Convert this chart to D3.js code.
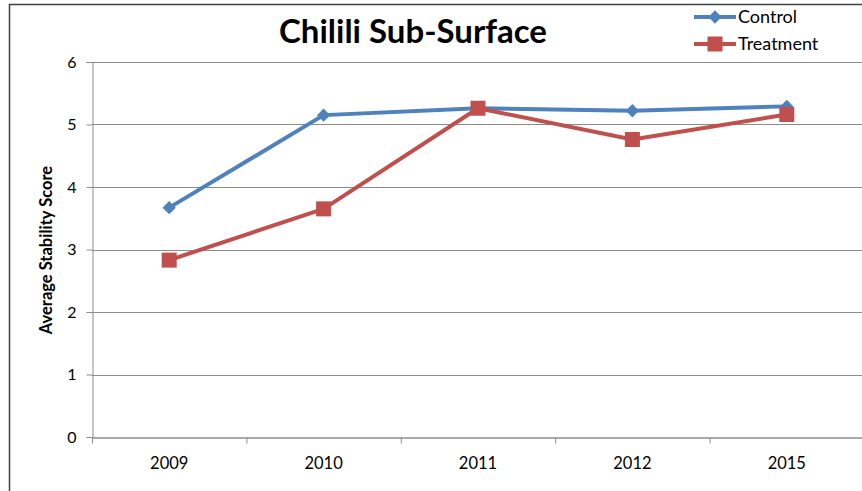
<!DOCTYPE html>
<html><head><meta charset="utf-8">
<script src="https://cdn.jsdelivr.net/npm/d3@7"></script>
<style>body{margin:0;background:#fff;} svg{display:block;font-family:Lato,"Open Sans",sans-serif;}</style>
</head><body>
<svg id="c" width="862" height="491"></svg>
<script>
const categories = ["2009","2010","2011","2012","2015"];
const controlValues = [3.67, 5.15, 5.26, 5.22, 5.29];
const treatmentValues = [2.83, 3.65, 5.26, 4.76, 5.16];
const yTicks = [0,1,2,3,4,5,6];
const seriesNames = ["Control","Treatment"];
const title = "Chilili Sub-Surface";
const yTitle = "Average Stability Score";

const svg = d3.select("#c");
const m = {l:92, t:62, r:864, b:437};
const x = d3.scaleBand().domain(categories).range([m.l, m.r]);
const y = d3.scaleLinear().domain([0,6]).range([m.b, m.t]);

// outer border
svg.append("rect").attr("x",9.5).attr("y",4.5).attr("width",900).attr("height",600)
  .attr("fill","none").attr("stroke","#404040").attr("stroke-width",1.5);

// gridlines
svg.append("g").selectAll("line").data(yTicks.filter(d=>d>0)).join("line")
  .attr("x1",m.l).attr("x2",m.r).attr("y1",d=>Math.round(y(d))+0.5).attr("y2",d=>Math.round(y(d))+0.5)
  .attr("stroke","#8c8c8c").attr("stroke-width",1);

// y axis
const ya = svg.append("g").attr("transform",`translate(${m.l+0.5},0)`)
  .call(d3.axisLeft(y).tickValues(yTicks).tickSize(6).tickPadding(10).tickFormat(d3.format("d")));
ya.select(".domain").attr("stroke","#8c8c8c");
ya.selectAll(".tick line").attr("stroke","#8c8c8c");
ya.selectAll("text").attr("font-size",16).attr("fill","#000").attr("font-family","Lato, sans-serif");

// x axis
const xa = svg.append("g").attr("transform",`translate(0,${m.b+0.5})`)
  .call(d3.axisBottom(x).tickSize(0).tickPadding(20));
xa.select(".domain").attr("stroke","#8c8c8c").attr("stroke-width",1.5);
xa.selectAll("text").attr("font-size",16.5).attr("fill","#000").attr("font-family","Lato, sans-serif");
// category boundary ticks
xa.append("g").selectAll("line").data(categories).join("line")
  .attr("x1",d=>x(d)+0.5).attr("x2",d=>x(d)+0.5).attr("y1",0).attr("y2",6)
  .attr("stroke","#8c8c8c");

// titles
svg.append("text").attr("x",413).attr("y",43).attr("text-anchor","middle")
  .attr("font-size",33).attr("font-weight","bold").text(title);
svg.append("text").attr("transform","translate(52,250) rotate(-90)").attr("text-anchor","middle")
  .attr("font-size",16.5).attr("font-weight","bold").text(yTitle);

const cx = d => x(d) + x.bandwidth()/2;
const line = d3.line().x(d=>cx(d.c)).y(d=>y(d.v));
const colors = ["#4F81BD","#C0504D"];
const data = [controlValues, treatmentValues].map(vals => categories.map((c,i)=>({c, v:vals[i]})));

data.forEach((pts,si)=>{
  svg.append("path").datum(pts).attr("d",line).attr("fill","none")
    .attr("stroke",colors[si]).attr("stroke-width",4).attr("stroke-linejoin","round");
});
// markers
svg.append("g").selectAll("path").data(data[0]).join("path")
  .attr("d",d3.symbol().type(d3.symbolSquare).size(88))
  .attr("transform",d=>`translate(${cx(d.c)},${y(d.v)}) rotate(45)`)
  .attr("fill",colors[0]);
svg.append("g").selectAll("rect").data(data[1]).join("rect")
  .attr("x",d=>cx(d.c)-7.5).attr("y",d=>y(d.v)-7.5).attr("width",15).attr("height",15)
  .attr("fill",colors[1]);

// legend
const lg = svg.append("g");
seriesNames.forEach((n,i)=>{
  const ly = 17 + i*27;
  lg.append("line").attr("x1",694).attr("x2",736).attr("y1",ly).attr("y2",ly)
    .attr("stroke",colors[i]).attr("stroke-width",4);
  if(i===0){
    lg.append("path").attr("d",d3.symbol().type(d3.symbolSquare).size(88)())
      .attr("transform",`translate(715,${ly}) rotate(45)`).attr("fill",colors[0]);
  } else {
    lg.append("rect").attr("x",707.5).attr("y",ly-7.5).attr("width",15).attr("height",15).attr("fill",colors[1]);
  }
  lg.append("text").attr("x",738).attr("y",ly+6).attr("font-size",18).text(n);
});
</script>
</body></html>
